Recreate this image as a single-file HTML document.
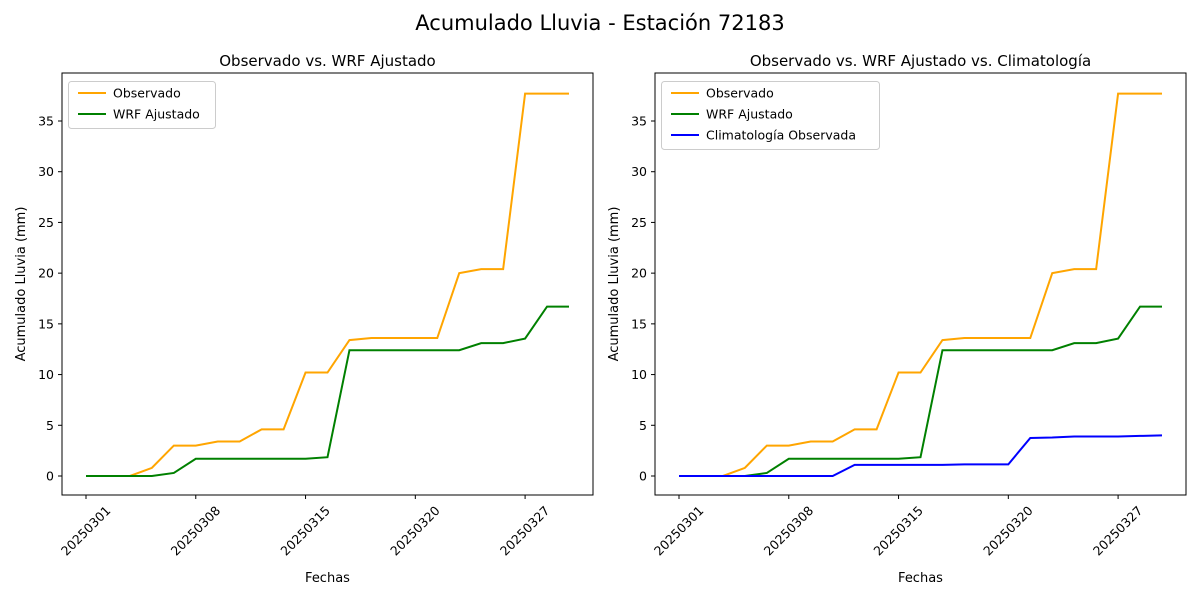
<!DOCTYPE html>
<html><head><meta charset="utf-8"><style>
body{margin:0;background:#fff;font-family:"DejaVu Sans","Liberation Sans",sans-serif;}
svg text{font-family:"DejaVu Sans","Liberation Sans",sans-serif;}
</style></head><body>
<svg id="c" width="1200" height="600" xmlns="http://www.w3.org/2000/svg"></svg>
<script>
const dates=["20250301","20250302","20250303","20250305","20250306","20250308","20250309","20250310","20250311","20250313","20250315","20250316","20250317","20250318","20250319","20250320","20250322","20250323","20250324","20250325","20250327","20250328","20250329"];
const observed=[0,0,0,0.8,3.0,3.0,3.4,3.4,4.6,4.6,10.2,10.2,13.4,13.6,13.6,13.6,13.6,20.0,20.4,20.4,37.7,37.7,37.7];
const wrf=[0,0,0,0,0.3,1.7,1.7,1.7,1.7,1.7,1.7,1.85,12.4,12.4,12.4,12.4,12.4,12.4,13.1,13.1,13.55,16.7,16.7];
const clim=[0,0,0,0,0,0,0,0,1.1,1.1,1.1,1.1,1.1,1.15,1.15,1.15,3.75,3.8,3.9,3.9,3.9,3.95,4.0];
const yTicks=[0,5,10,15,20,25,30,35];
const tickIdx=[0,5,10,15,20];
const svg=document.getElementById('c');
const NS='http://www.w3.org/2000/svg';
function mk(t,a,p){const e=document.createElementNS(NS,t);for(const k in a)e.setAttribute(k,a[k]);(p||svg).appendChild(e);return e;}
const title=mk('text',{x:600,y:30,'text-anchor':'middle','font-size':21});title.textContent='Acumulado Lluvia - Estación 72183';


function panel(x0,x1,name,ttl,series){
  const top=73,bot=495;
  const g=mk('g',{});
  
  
  const xs=i=>x0+24+i*(x1-x0-48)/(dates.length-1);
  const ys=v=>476-v*10.143;
  const t=mk('text',{x:(x0+x1)/2,y:66,'text-anchor':'middle','font-size':15},g);t.textContent=ttl;
  
  
  yTicks.forEach(v=>{mk('line',{x1:x0-4,x2:x0,y1:ys(v),y2:ys(v),stroke:'#000'},g);
    const l=mk('text',{x:x0-8,y:ys(v)+4.5,'text-anchor':'end','font-size':12.5},g);l.textContent=v;
    
    });
  tickIdx.forEach(i=>{const x=xs(i);mk('line',{x1:x,x2:x,y1:bot,y2:bot+4,stroke:'#000'},g);
    const l=mk('text',{x:0,y:4,'text-anchor':'middle','font-size':12.5,transform:`translate(${x},${bot+36}) rotate(-45)`},g);l.textContent=dates[i];
    
    });
  const xl=mk('text',{x:(x0+x1)/2,y:582,'text-anchor':'middle','font-size':13},g);xl.textContent='Fechas';
  
  
  const yl=mk('text',{x:0,y:0,'text-anchor':'middle','font-size':13,transform:`translate(${x0-37},${(top+bot)/2}) rotate(-90)`},g);yl.textContent='Acumulado Lluvia (mm)';
  
  
  series.forEach(s=>{const p=mk('polyline',{points:s.d.map((v,i)=>xs(i)+','+ys(v)).join(' '),fill:'none',stroke:s.c,'stroke-width':2},g);
    
    });
  mk('rect',{x:x0,y:top,width:x1-x0,height:bot-top,fill:'none',stroke:'#000','stroke-width':1},g);
  const lh=series.length*21+5, lw=series.length>2?218:147;
  const lg=mk('g',{},g);
  
  
  mk('rect',{x:x0+6.5,y:81.5,width:lw,height:lh,rx:3,fill:'#fff',stroke:'#ccc'},lg);
  series.forEach((s,k)=>{const y=93+k*21;mk('line',{x1:x0+16,x2:x0+44,y1:y,y2:y,stroke:s.c,'stroke-width':2},lg);
    const tx=mk('text',{x:x0+51,y:y+4.5,'font-size':12.5},lg);tx.textContent=s.l;
    
    });
}
panel(62,593,'left-panel','Observado vs. WRF Ajustado',[{d:observed,c:'orange',l:'Observado',n:'observado'},{d:wrf,c:'green',l:'WRF Ajustado',n:'wrf'}]);
panel(655,1186,'right-panel','Observado vs. WRF Ajustado vs. Climatología',[{d:observed,c:'orange',l:'Observado',n:'observado'},{d:wrf,c:'green',l:'WRF Ajustado',n:'wrf'},{d:clim,c:'blue',l:'Climatología Observada',n:'climatologia'}]);
</script>
</body></html>
